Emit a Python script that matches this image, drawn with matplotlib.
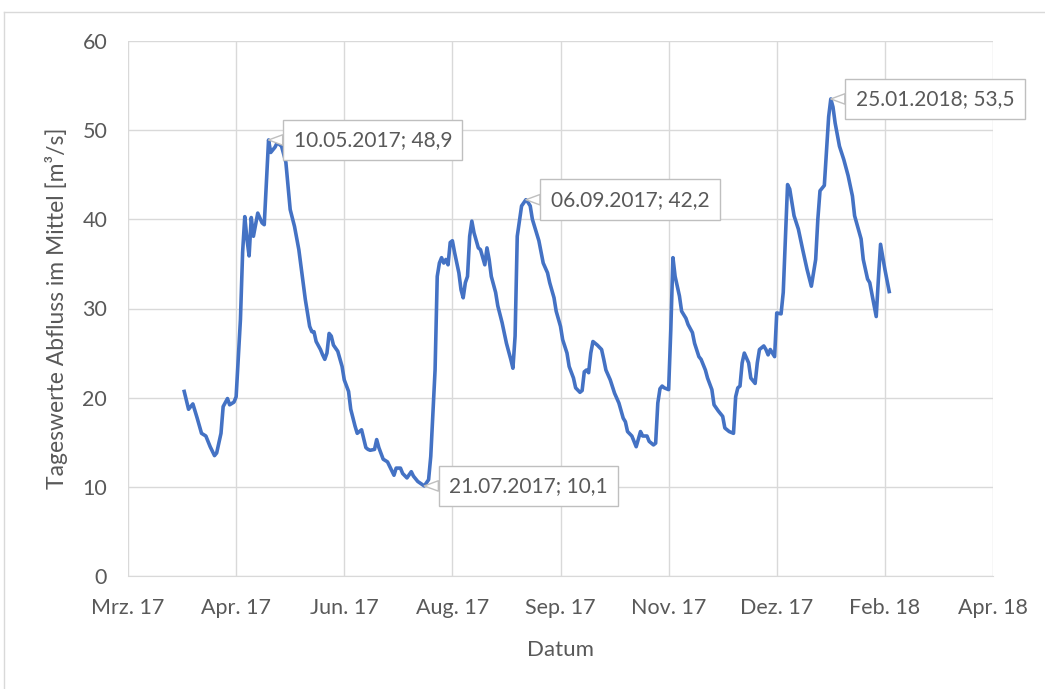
import matplotlib
matplotlib.use("Agg")
import matplotlib.pyplot as plt
import matplotlib.dates as mdates
from matplotlib.lines import Line2D
from matplotlib.ticker import FixedLocator, FuncFormatter
import numpy as np

plt.rcParams["font.family"] = ["Lato", "DejaVu Sans"]

# Tage seit 06.03.2017 (Achsenbeginn) und Tagesmittel des Abflusses [m3/s]
start = np.datetime64("2017-03-06")
tage = [26, 28, 30, 32, 34, 36, 38, 40, 41, 43, 44, 46, 47, 49, 50, 52, 53, 54, 55, 56,
        57, 58, 60, 62, 63, 65, 66, 68, 69, 71, 73, 75, 77, 79, 82, 84, 85, 86, 87, 89,
        90, 91, 92, 93, 94, 95, 97, 99, 100, 102, 103, 105, 106, 108, 110, 111, 112, 114, 115, 116,
        118, 120, 121, 123, 124, 126, 127, 129, 131, 132, 134, 137, 139, 140, 142, 143, 144, 145, 146, 147,
        148, 149, 150, 151, 153, 154, 155, 156, 157, 158, 159, 160, 162, 163, 165, 166, 167, 168, 170, 171,
        173, 175, 177, 178, 179, 180, 182, 184, 185, 186, 187, 188, 190, 192, 194, 195, 197, 198, 200, 201,
        203, 204, 206, 207, 209, 210, 211, 212, 213, 214, 215, 217, 219, 220, 221, 223, 225, 227, 229, 230,
        231, 233, 235, 237, 238, 240, 241, 243, 244, 245, 246, 247, 248, 250, 251, 252, 253, 255, 256, 258,
        259, 261, 262, 264, 265, 267, 268, 270, 271, 273, 275, 276, 278, 280, 281, 282, 283, 284, 285, 287,
        288, 290, 291, 292, 294, 295, 296, 297, 299, 300, 302, 303, 305, 306, 308, 310, 312, 314, 316, 318,
        319, 320, 322, 324, 325, 326, 327, 329, 331, 333, 335, 336, 339, 340, 342, 343, 346, 347, 348, 350,
        352]
abfluss = [20.7, 18.7, 19.3, 17.7, 16.0, 15.7, 14.5, 13.5, 13.8, 16.0, 19.0, 19.9, 19.2, 19.5, 20.1, 28.8, 36.3, 40.3, 37.8, 35.9,
           40.2, 38.1, 40.7, 39.6, 39.4, 48.9, 47.5, 48.1, 48.6, 48.2, 46.4, 41.1, 39.2, 36.6, 31.0, 28.0, 27.4, 27.4, 26.3, 25.4,
           24.8, 24.3, 25.0, 27.2, 26.9, 25.9, 25.2, 23.5, 22.0, 20.7, 18.7, 16.8, 16.0, 16.4, 14.4, 14.2, 14.1, 14.2, 15.3, 14.4,
           13.1, 12.8, 12.3, 11.3, 12.1, 12.1, 11.5, 11.0, 11.7, 11.2, 10.6, 10.1, 10.8, 13.4, 23.1, 33.6, 35.1, 35.7, 35.1, 35.5,
           34.9, 37.4, 37.6, 36.3, 34.0, 32.1, 31.2, 32.9, 33.6, 38.1, 39.8, 38.5, 36.8, 36.6, 34.9, 36.8, 35.5, 33.6, 31.8, 30.3,
           28.4, 26.1, 24.3, 23.3, 26.9, 38.1, 41.5, 42.2, 41.9, 41.5, 40.0, 39.2, 37.6, 35.1, 34.0, 32.9, 31.2, 29.7, 28.0, 26.5,
           25.0, 23.5, 22.2, 21.1, 20.6, 20.8, 22.9, 23.1, 22.8, 25.0, 26.3, 25.9, 25.4, 24.3, 23.1, 22.0, 20.5, 19.4, 17.7, 17.3,
           16.2, 15.7, 14.5, 16.2, 15.7, 15.7, 15.1, 14.7, 14.9, 19.4, 21.0, 21.3, 21.1, 20.9, 27.6, 35.7, 33.6, 31.4, 29.7, 28.9,
           28.2, 27.3, 26.1, 24.6, 24.3, 23.1, 22.2, 20.9, 19.2, 18.5, 17.9, 16.6, 16.2, 16.0, 20.1, 21.1, 21.3, 23.9, 25.0, 23.9,
           22.2, 21.6, 23.9, 25.4, 25.8, 25.4, 24.8, 25.4, 24.6, 29.5, 29.4, 31.8, 43.9, 43.4, 40.4, 38.9, 36.6, 34.4, 32.5, 35.5,
           40.0, 43.2, 43.8, 51.5, 53.5, 52.6, 50.8, 48.2, 46.7, 44.9, 42.6, 40.4, 37.8, 35.5, 33.3, 32.9, 29.1, 33.3, 37.2, 34.4,
           31.9]

# beschriftete Punkte
marken = ["2017-05-10", "2017-07-21", "2017-09-06", "2018-01-25"]
marken_werte = [48.9, 10.1, 42.2, 53.5]

monate = {1: "Jan.", 2: "Feb.", 3: "Mrz.", 4: "Apr.", 5: "Mai", 6: "Jun.",
          7: "Jul.", 8: "Aug.", 9: "Sep.", 10: "Okt.", 11: "Nov.", 12: "Dez."}

grau = "#595959"
datum = start + np.array(tage).astype("timedelta64[D]")

fig = plt.figure(figsize=(10.45, 6.89), dpi=100)
ax = fig.add_axes([128 / 1045, 1 - 576 / 689, 865 / 1045, 535 / 689])

ax.plot(datum, abfluss, color="#4472C4", lw=2.6, solid_joinstyle="round", zorder=3)

# Achse wie in Excel: Hauptintervall 50 Tage
ticks = start + np.arange(0, 401, 50).astype("timedelta64[D]")
ax.set_xlim(mdates.date2num(ticks[0]), mdates.date2num(ticks[-1]))
ax.xaxis.set_major_locator(FixedLocator(mdates.date2num(ticks)))

def fmt_datum(x, pos):
    d = mdates.num2date(x)
    return f"{monate[d.month]} {d.strftime('%y')}"

ax.xaxis.set_major_formatter(FuncFormatter(fmt_datum))
ax.set_ylim(0, 60)
ax.set_yticks(range(0, 61, 10))

ax.grid(True, color="#D9D9D9", lw=1)
ax.set_axisbelow(True)
for s in ["top", "right", "left"]:
    ax.spines[s].set_visible(False)
ax.spines["bottom"].set_color("#D9D9D9")
ax.tick_params(length=0, labelsize=15.5, labelcolor=grau)
ax.tick_params(axis="y", pad=15)
ax.tick_params(axis="x", pad=16)

ax.set_xlabel("Datum", fontsize=16, color=grau, labelpad=16)
ax.set_ylabel("Tageswerte Abfluss im Mittel [m³/s]", fontsize=16.5, color=grau, labelpad=10)

for d, w in zip(marken, marken_werte):
    tag, mon, jahr = d[8:], d[5:7], d[:4]
    txt = f"{tag}.{mon}.{jahr}; {str(w).replace('.', ',')}"
    ax.annotate(txt, xy=(np.datetime64(d), w), xytext=(18, 0), textcoords="offset points",
                ha="left", va="center", fontsize=15, color=grau, zorder=5,
                bbox=dict(boxstyle="square,pad=0.5", fc="white", ec="#BFBFBF", lw=1),
                arrowprops=dict(arrowstyle="wedge,tail_width=0.5,shrink_factor=0.5",
                                fc="white", ec="#BFBFBF", lw=1, shrinkA=0, shrinkB=0))

# Rahmen des Diagrammbereichs
fig.add_artist(Line2D([4 / 1045, 4 / 1045], [0, 1 - 12 / 689], color="#D9D9D9", lw=1))
fig.add_artist(Line2D([4 / 1045, 1], [1 - 12 / 689, 1 - 12 / 689], color="#D9D9D9", lw=1))

fig.savefig("out.png", dpi=100)
